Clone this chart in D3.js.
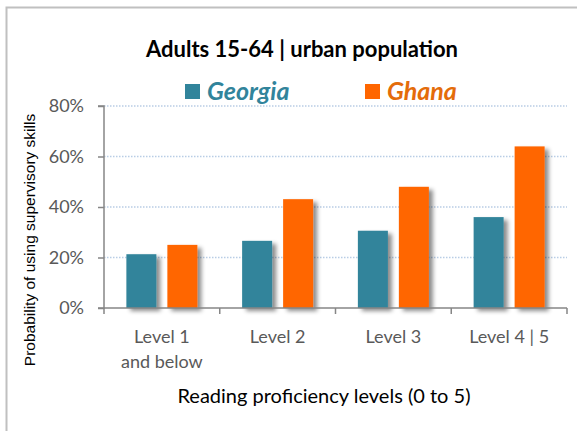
<!DOCTYPE html>
<html>
<head>
<meta charset="utf-8">
<script src="https://cdn.jsdelivr.net/npm/d3@7"></script>
<style>
  body { margin: 0; background: #fff; }
  svg { display: block; }
</style>
</head>
<body>
<div id="chart"></div>
<script>
// data
const levels = ["Level 1|and below", "Level 2", "Level 3", "Level 4 | 5"];
const series = ["Georgia", "Ghana"];
const georgia = [0.213, 0.266, 0.306, 0.360];
const ghana = [0.250, 0.431, 0.480, 0.640];
const yTicks = [0, 0.2, 0.4, 0.6, 0.8];

const colors = {Georgia: "#31849b", Ghana: "#ff6600"};
const legendText = {Georgia: "#31849b", Ghana: "#e46c0a"};

const W = 577, H = 431;
const margin = {top: 106, left: 104, right: 10, bottom: 123};
const plotW = 567 - margin.left;
const plotH = H - margin.top - margin.bottom;

const svg = d3.select("#chart").append("svg")
  .attr("width", W).attr("height", H);

const defs = svg.append("defs");
const f = defs.append("filter").attr("id", "shadow")
  .attr("x", "-20%").attr("y", "-10%").attr("width", "160%").attr("height", "130%");
f.append("feDropShadow").attr("dx", 4).attr("dy", 3).attr("stdDeviation", 2)
  .attr("flood-color", "#000").attr("flood-opacity", 0.45);

// outer frame (right/bottom fall off the picture)
svg.append("rect").attr("x", 6.5).attr("y", 7.5).attr("width", 600).attr("height", 460)
  .attr("fill", "none").attr("stroke", "#c0c0c0").attr("stroke-width", 2);

svg.append("text").attr("x", 302).attr("y", 57)
  .attr("text-anchor", "middle")
  .style("font-family", "Lato, 'Open Sans', sans-serif")
  .style("font-weight", "bold").style("font-size", "22px")
  .attr("fill", "#000")
  .text("Adults 15-64 | urban population");

const g = svg.append("g").attr("transform", `translate(${margin.left},${margin.top})`);

const y = d3.scaleLinear().domain([0, 0.8]).range([plotH, 0]);
const x0 = d3.scaleBand().domain(levels).range([0, plotW]);
const x1 = d3.scaleBand().domain(series)
  .range([x0.bandwidth() / 2 - 35.5, x0.bandwidth() / 2 + 35.5]).paddingInner(0.268);

// gridlines
g.selectAll("line.grid").data(yTicks.filter(d => d > 0)).enter().append("line")
  .attr("class", "grid")
  .attr("x1", 0).attr("x2", plotW)
  .attr("y1", d => y(d)).attr("y2", d => y(d))
  .attr("stroke", "#b9cde5").attr("stroke-width", 1.5)
  .attr("stroke-dasharray", "1.5,1.5");

// y axis
const yAxis = g.append("g").call(d3.axisLeft(y).tickValues(yTicks).tickFormat(d3.format(".0%")).tickSize(6).tickPadding(14));
yAxis.select(".domain").attr("stroke", "#868686").attr("stroke-width", 1.5).attr("d", `M-6,0H0V${plotH}H-6`);
yAxis.selectAll(".tick line").attr("stroke", "#868686").attr("stroke-width", 1.5);
yAxis.selectAll(".tick text").attr("fill", "#595959")
  .style("font-family", "Lato, sans-serif").style("font-size", "18px");

// bars
const rows = levels.map((l, i) => ({level: l, vals: [{s: "Georgia", v: georgia[i]}, {s: "Ghana", v: ghana[i]}]}));
const grp = g.selectAll("g.level").data(rows).enter().append("g")
  .attr("transform", d => `translate(${x0(d.level)},0)`);
grp.selectAll("rect").data(d => d.vals).enter().append("rect")
  .attr("x", d => x1(d.s)).attr("width", x1.bandwidth())
  .attr("y", d => y(d.v)).attr("height", d => plotH - y(d.v))
  .attr("fill", d => colors[d.s])
  .attr("filter", "url(#shadow)");

// x axis
const xAxisG = g.append("g").attr("transform", `translate(0,${plotH})`);
xAxisG.append("line").attr("x1", 0).attr("x2", plotW).attr("y1", 0).attr("y2", 0)
  .attr("stroke", "#868686").attr("stroke-width", 1.5);
const bounds = levels.map(l => x0(l)).concat([plotW]);
xAxisG.selectAll("line.tk").data(bounds).enter().append("line")
  .attr("x1", d => d).attr("x2", d => d).attr("y1", 0).attr("y2", 6)
  .attr("stroke", "#868686").attr("stroke-width", 1.5);
const lbl = xAxisG.selectAll("text.lbl").data(levels).enter().append("text")
  .attr("text-anchor", "middle")
  .attr("x", d => x0(d) + x0.bandwidth() / 2)
  .attr("y", 35)
  .attr("fill", "#595959")
  .style("font-family", "Lato, sans-serif").style("font-size", "18px");
lbl.selectAll("tspan").data(d => d.startsWith("Level 1") ? d.split("|") : [d]).enter()
  .append("tspan")
  .attr("x", function() { return d3.select(this.parentNode).attr("x"); })
  .attr("dy", (d, i) => i === 0 ? 0 : 25)
  .text(d => d);

// axis titles
svg.append("text").attr("x", 324).attr("y", 403)
  .attr("text-anchor", "middle")
  .style("font-family", "Lato, 'Open Sans', sans-serif").style("font-size", "20px")
  .attr("fill", "#000")
  .text("Reading proficiency levels (0 to 5)");

svg.append("text")
  .attr("transform", "translate(35,240) rotate(-90)")
  .attr("text-anchor", "middle")
  .style("font-family", "'Liberation Sans', Arial, sans-serif").style("font-size", "15.5px")
  .attr("fill", "#000")
  .text("Probability of using supervisory skills");

// legend
const legendX = {Georgia: 185, Ghana: 365};
const lg = svg.selectAll("g.legend").data(series).enter().append("g")
  .attr("transform", d => `translate(${legendX[d]},84)`);
lg.append("rect").attr("width", 15).attr("height", 15).attr("fill", d => colors[d]);
lg.append("text").attr("x", 22).attr("y", 16)
  .style("font-family", "Lato, 'Open Sans', sans-serif")
  .style("font-weight", "bold").style("font-style", "italic").style("font-size", "25px")
  .attr("fill", d => legendText[d])
  .text(d => d);
</script>
</body>
</html>
